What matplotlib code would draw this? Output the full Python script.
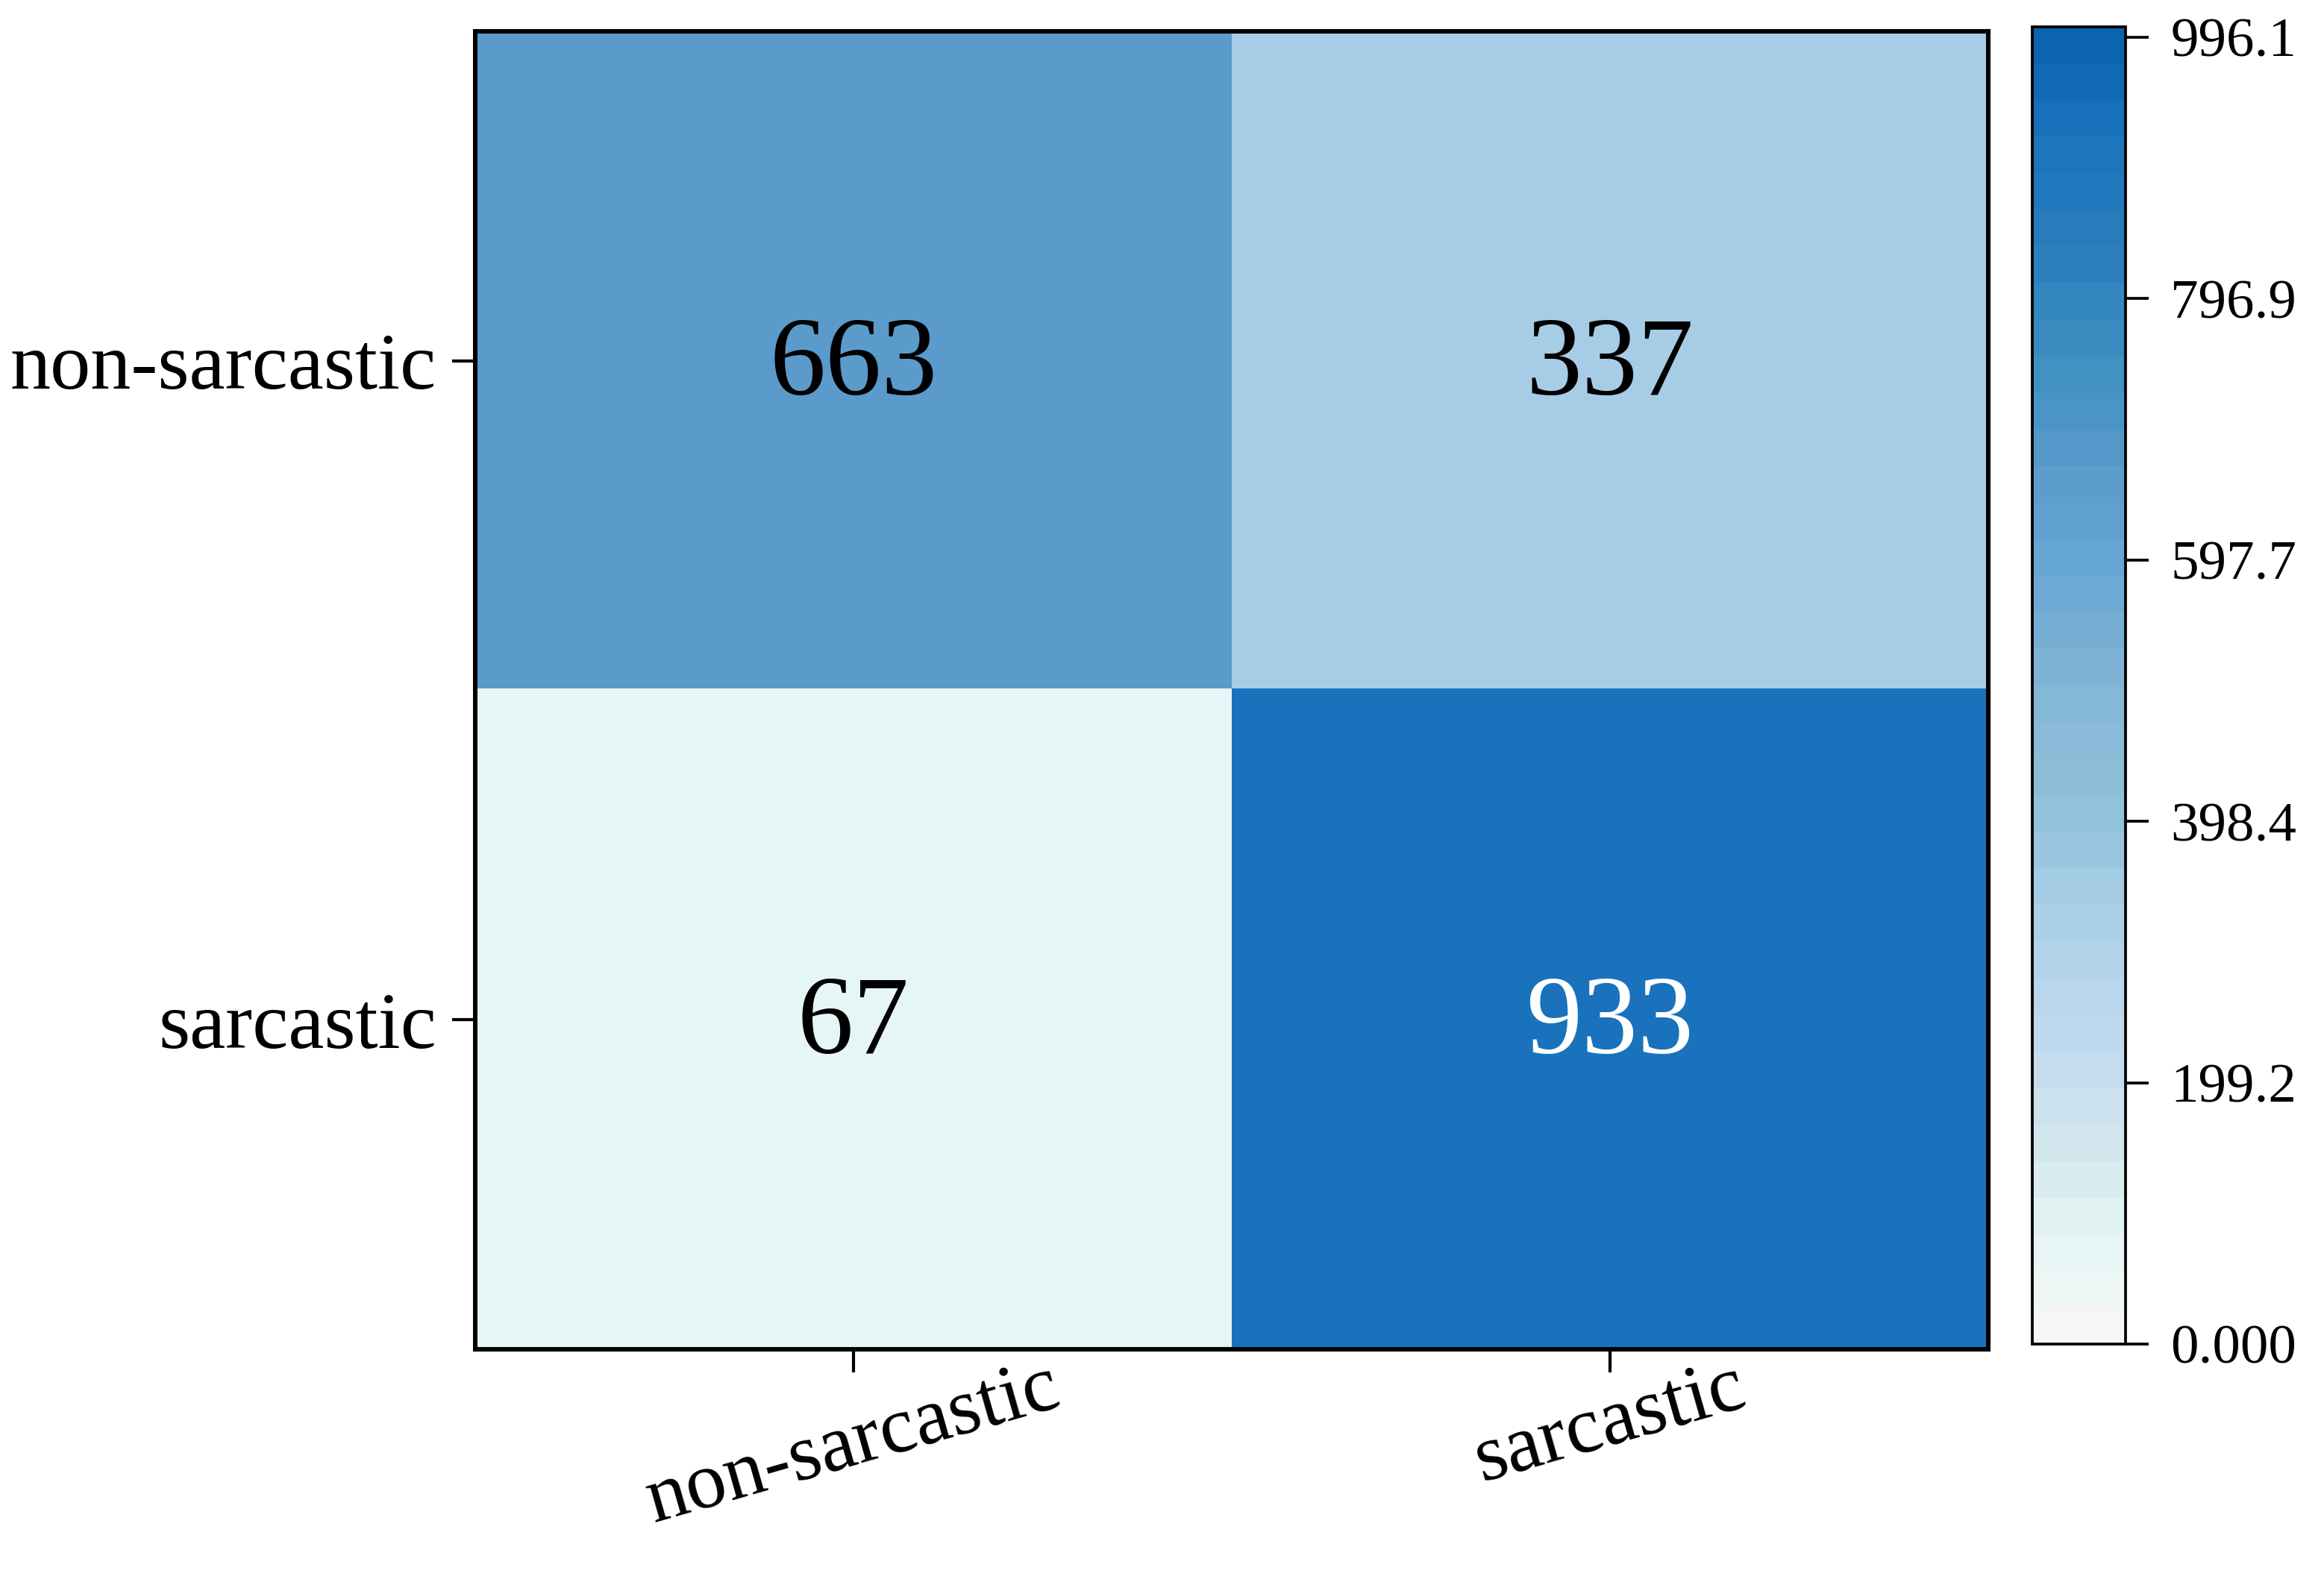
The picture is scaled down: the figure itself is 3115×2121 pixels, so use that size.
import numpy as np
import matplotlib
matplotlib.use("Agg")
import matplotlib.pyplot as plt
from matplotlib.colors import LinearSegmentedColormap, Normalize
from matplotlib.cm import ScalarMappable

plt.rcParams['font.family'] = ['Liberation Serif', 'DejaVu Serif']

# Data
row_labels = ["non-sarcastic", "sarcastic"]
col_labels = ["non-sarcastic", "sarcastic"]
matrix = np.array([[663, 337],
                   [67, 933]])
cbar_ticks = [0.0, 199.2, 398.4, 597.7, 796.9, 996.1]
cbar_ticklabels = ["0.000", "199.2", "398.4", "597.7", "796.9", "996.1"]
vmin, vmax = 0.0, 1004.0

# Colormap anchors (value, colour)
anchor_vals = [0, 67, 150, 200, 337, 400, 500, 600, 663, 750, 850, 933, 1004]
anchor_cols = ["#f6f6f6", "#e6f5f5", "#d0e6ec", "#c6ddf0", "#a7cde6", "#90c2d9",
               "#84b5d6", "#66a6d2", "#5b9ccc", "#4090c3", "#2a7dbc", "#1a73bc", "#0a64b0"]
cmap = LinearSegmentedColormap.from_list(
    "cm", [((v - vmin) / (vmax - vmin), c) for v, c in zip(anchor_vals, anchor_cols)], N=256)
norm = Normalize(vmin=vmin, vmax=vmax)

fig = plt.figure(figsize=(3115 / 300, 2121 / 300), dpi=300)
ax = fig.add_axes([0.2045, 0.1471, 0.8555 - 0.2045, 0.9802 - 0.1471])
cax = fig.add_axes([0.8745, 0.1504, 0.9146 - 0.8745, 0.9830 - 0.1504])

ax.imshow(matrix, cmap=cmap, norm=norm, aspect='auto', interpolation='nearest')
for i in range(matrix.shape[0]):
    for j in range(matrix.shape[1]):
        val = matrix[i, j]
        ax.text(j, i + 0.01, f"{val}", ha='center', va='center', fontsize=36,
                color='white' if val > 800 else 'black')

ax.set_xticks(range(len(col_labels)))
ax.set_xticklabels(col_labels, rotation=16, ha='center', fontsize=26)
ax.set_yticks(range(len(row_labels)))
ax.set_yticklabels(row_labels, fontsize=26)
ax.tick_params(axis='both', length=7.5, width=1.0)
ax.tick_params(axis='y', pad=5)
ax.tick_params(axis='x', pad=-7)
for s in ax.spines.values():
    s.set_linewidth(1.45)

sm = ScalarMappable(norm=norm, cmap=cmap.resampled(36))
cb = fig.colorbar(sm, cax=cax)
cb.set_ticks(cbar_ticks)
cb.set_ticklabels(cbar_ticklabels)
cb.outline.set_linewidth(0.9)
cax.tick_params(length=7.5, width=0.9, labelsize=18, pad=7)

fig.savefig("out.png", dpi=300)
